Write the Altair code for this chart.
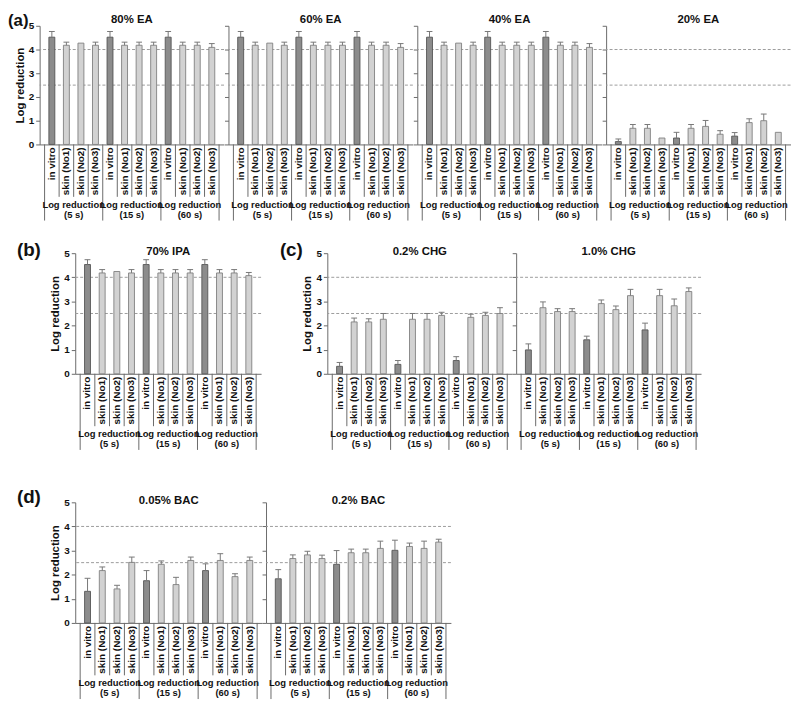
import altair as alt
import pandas as pd

FONT = "Liberation Sans"

categories = ["in vitro", "skin (No1)", "skin (No2)", "skin (No3)"]
times = ["(5 s)", "(15 s)", "(60 s)"]
group_label = "Log reduction"
thresholds = [2.5, 4.0]
y_ticks = [0, 1, 2, 3, 4, 5]

# values (Log reduction) and upper error bars, 12 per panel: 5 s, 15 s, 60 s x (in vitro, No1, No2, No3)
ea80_vals = [4.52, 4.18, 4.27, 4.18, 4.52, 4.18, 4.18, 4.18, 4.52, 4.18, 4.18, 4.09]
ea80_errs = [0.24, 0.13, 0.00, 0.13, 0.24, 0.13, 0.13, 0.13, 0.24, 0.13, 0.13, 0.16]
ea60_vals = [4.52, 4.18, 4.27, 4.18, 4.52, 4.18, 4.18, 4.18, 4.52, 4.18, 4.18, 4.09]
ea60_errs = [0.24, 0.13, 0.00, 0.13, 0.24, 0.13, 0.13, 0.13, 0.24, 0.13, 0.13, 0.16]
ea40_vals = [4.52, 4.18, 4.27, 4.18, 4.52, 4.18, 4.18, 4.18, 4.52, 4.18, 4.18, 4.09]
ea40_errs = [0.24, 0.13, 0.00, 0.13, 0.24, 0.13, 0.13, 0.13, 0.24, 0.13, 0.13, 0.16]
ea20_vals = [0.12, 0.68, 0.68, 0.27, 0.27, 0.68, 0.76, 0.43, 0.35, 0.92, 1.00, 0.51]
ea20_errs = [0.11, 0.16, 0.16, 0.00, 0.24, 0.16, 0.25, 0.15, 0.15, 0.16, 0.28, 0.00]
ipa70_vals = [4.53, 4.18, 4.24, 4.18, 4.53, 4.18, 4.18, 4.18, 4.53, 4.18, 4.18, 4.07]
ipa70_errs = [0.20, 0.14, 0.00, 0.14, 0.20, 0.14, 0.14, 0.14, 0.20, 0.14, 0.14, 0.13]
chg02_vals = [0.31, 2.15, 2.15, 2.26, 0.39, 2.26, 2.26, 2.42, 0.55, 2.34, 2.42, 2.50]
chg02_errs = [0.16, 0.16, 0.13, 0.24, 0.16, 0.24, 0.24, 0.13, 0.16, 0.13, 0.13, 0.24]
chg10_vals = [0.99, 2.74, 2.58, 2.58, 1.41, 2.91, 2.66, 3.24, 1.82, 3.24, 2.82, 3.41]
chg10_errs = [0.25, 0.24, 0.12, 0.12, 0.15, 0.15, 0.15, 0.26, 0.28, 0.26, 0.28, 0.15]
bac005_vals = [1.31, 2.17, 1.41, 2.51, 1.75, 2.43, 1.59, 2.59, 2.17, 2.59, 1.92, 2.59]
bac005_errs = [0.54, 0.15, 0.15, 0.22, 0.42, 0.14, 0.30, 0.14, 0.28, 0.28, 0.12, 0.14]
bac02_vals = [1.83, 2.67, 2.82, 2.67, 2.43, 2.91, 2.91, 3.09, 3.01, 3.17, 3.09, 3.35]
bac02_errs = [0.38, 0.15, 0.15, 0.14, 0.57, 0.15, 0.15, 0.30, 0.42, 0.14, 0.30, 0.12]

AX = "#6a6a6a"


def letter_box(letter, w, h, dx, dy, size=19):
    ldf = pd.DataFrame({"t": [letter]})
    return alt.Chart(ldf).mark_text(fontSize=size, fontWeight="bold", color="#111",
                                    align="left", baseline="middle").encode(
        x=alt.value(dx), y=alt.value(dy), text="t:N").properties(width=w, height=h)


def panel(title, vals, errs, w, h, first, letter=None, letter_dx=-35, letter_dy=-5, title_dy=-1):
    rows = []
    for i, (v, e) in enumerate(zip(vals, errs)):
        rows.append(dict(x=i + 0.5, cat=categories[i % 4],
                         kind="in vitro" if i % 4 == 0 else "skin",
                         v=v, top=v + e, err=e, xl=i + 0.5 - 0.2, xr=i + 0.5 + 0.2))
    df = pd.DataFrame(rows)
    xs = alt.Scale(domain=[0, 12], nice=False, zero=False)
    ys = alt.Scale(domain=[0, 5], nice=False)
    if first:
        yaxis = alt.Axis(values=y_ticks, title="Log reduction", grid=False, tickSize=4,
                         labelFontSize=10, labelFontWeight="bold", labelColor="#111",
                         labelPadding=2, titleFontSize=11.5, titleFontWeight="bold",
                         titleColor="#111", titlePadding=3, domainColor=AX, tickColor=AX)
    else:
        yaxis = alt.Axis(values=y_ticks, title=None, labels=False, grid=False, tickSize=4,
                         domainColor=AX, tickColor=AX)
    xaxis = alt.Axis(labels=False, ticks=False, grid=False, title=None, domainColor=AX)

    def X(f):
        return alt.X(f, scale=xs, axis=xaxis)

    def Y(f):
        return alt.Y(f, scale=ys, axis=yaxis)

    bars = alt.Chart(df).mark_bar(size=6, strokeWidth=0.9).encode(
        x=X("x:Q"),
        y=Y("v:Q"),
        fill=alt.Fill("kind:N", scale=alt.Scale(domain=["in vitro", "skin"],
                                                range=["#8c8c8c", "#d2d2d2"]), legend=None),
        stroke=alt.Stroke("kind:N", scale=alt.Scale(domain=["in vitro", "skin"],
                                                    range=["#555555", "#808080"]), legend=None),
    )
    dashed = alt.Chart(pd.DataFrame({"t": thresholds})).mark_rule(
        color="#9c9c9c", strokeDash=[3, 2], strokeWidth=1
    ).encode(y=Y("t:Q"))

    ebase = alt.Chart(df).transform_filter("datum.err > 0")
    estem = ebase.mark_rule(color="#777777", strokeWidth=1).encode(
        x=X("x:Q"), y=Y("v:Q"), y2="top:Q")
    ecap = ebase.mark_rule(color="#777777", strokeWidth=1).encode(
        x=X("xl:Q"), x2="xr:Q", y=Y("top:Q"))

    seps = alt.Chart(pd.DataFrame({"s": [1, 2, 3, 5, 6, 7, 9, 10, 11]})).mark_rule(
        color=AX, strokeWidth=1).encode(x=X("s:Q"), y=alt.value(h), y2=alt.value(h + 53))
    grps = alt.Chart(pd.DataFrame({"g": [0, 4, 8, 12]})).mark_rule(
        color=AX, strokeWidth=1).encode(x=X("g:Q"), y=alt.value(h), y2=alt.value(h + 77))

    items = alt.Chart(df).mark_text(angle=270, align="right", baseline="middle",
                                    fontSize=10, fontWeight="bold", color="#111").encode(
        x=X("x:Q"), y=alt.value(h + 3), text="cat:N")

    gdf = pd.DataFrame({"gx": [2, 6, 10], "l1": [group_label] * 3, "l2": times})
    g1 = alt.Chart(gdf).mark_text(fontSize=9.5, fontWeight="bold", color="#111", baseline="middle").encode(
        x=X("gx:Q"), y=alt.value(h + 61), text="l1:N")
    g2 = alt.Chart(gdf).mark_text(fontSize=9.5, fontWeight="bold", color="#111", baseline="middle").encode(
        x=X("gx:Q"), y=alt.value(h + 71), text="l2:N")

    tdf = pd.DataFrame({"t": [title], "tx": [6]})
    ttl = alt.Chart(tdf).mark_text(fontSize=11.5, fontWeight="bold", color="#111", baseline="middle").encode(
        x=X("tx:Q"), y=alt.value(title_dy), text="t:N")

    layers = [dashed, bars, estem, ecap, seps, grps, items, g1, g2, ttl]
    if letter:
        ldf = pd.DataFrame({"t": [letter]})
        lt = alt.Chart(ldf).mark_text(fontSize=19, fontWeight="bold", color="#111",
                                      align="left", baseline="middle").encode(
            x=alt.value(letter_dx), y=alt.value(letter_dy), text="t:N")
        layers.append(lt)
    return alt.layer(*layers).properties(width=w, height=h)


HA = 120
H = 122
row_a = alt.hconcat(
    letter_box("(a)", 28, HA, 0, -5, 17),
    panel("80% EA", ea80_vals, ea80_errs, 186.5, HA, True, title_dy=-6),
    panel("60% EA", ea60_vals, ea60_errs, 186.5, HA, False, title_dy=-6),
    panel("40% EA", ea40_vals, ea40_errs, 186.5, HA, False, title_dy=-6),
    panel("20% EA", ea20_vals, ea20_errs, 186.5, HA, False, title_dy=-6),
    spacing=4, bounds="flush",
)
row_bc = alt.hconcat(
    alt.hconcat(
        letter_box("(b)", 64, H, 9, -3),
        panel("70% IPA", ipa70_vals, ipa70_errs, 188, H, True, title_dy=-1),
        spacing=4, bounds="flush",
    ),
    alt.hconcat(
        panel("0.2% CHG", chg02_vals, chg02_errs, 187, H, True, "(c)", -48, -3, -1),
        panel("1.0% CHG", chg10_vals, chg10_errs, 187, H, False, title_dy=-1),
        spacing=4, bounds="flush",
    ),
    spacing=18,
)
row_d = alt.hconcat(
    letter_box("(d)", 64, H, 9, -5),
    panel("0.05% BAC", bac005_vals, bac005_errs, 189, H, True, title_dy=-1),
    panel("0.2% BAC", bac02_vals, bac02_errs, 187, H, False, title_dy=-1),
    spacing=4, bounds="flush",
)

chart = alt.vconcat(
    alt.vconcat(row_a, row_bc, spacing=20),
    row_d,
    spacing=38,
).properties(
    padding={"left": 0, "right": 0, "top": 0, "bottom": 0}
).configure(font=FONT).configure_view(stroke=None)

chart.save("out.html", embed_options={"renderer": "svg", "actions": False})
